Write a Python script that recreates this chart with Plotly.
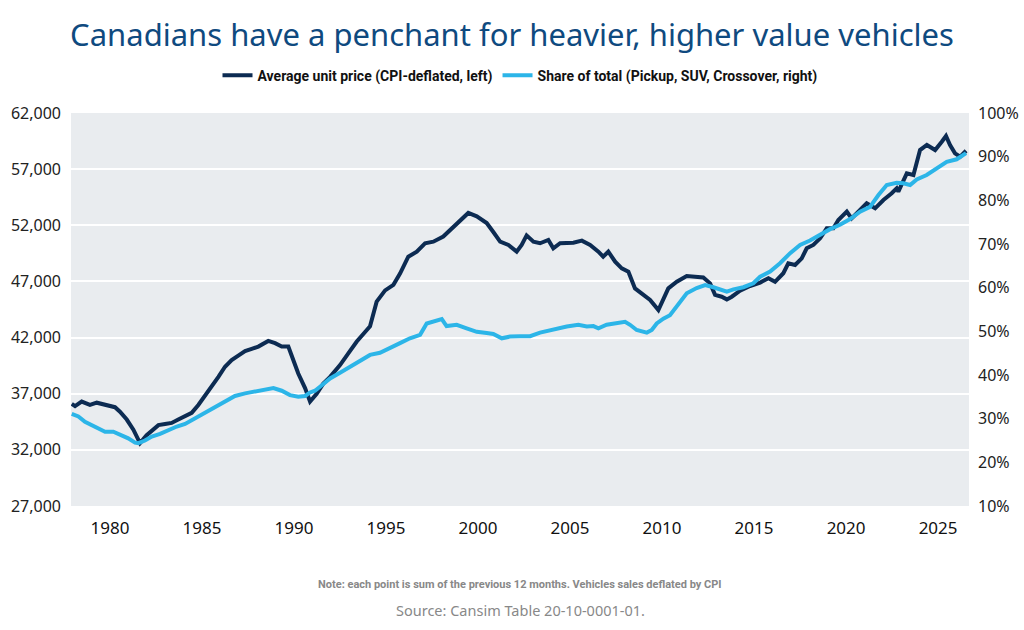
import plotly.graph_objects as go

# average unit price, CPI-deflated (left axis)
price_years = [
    1977.92, 1978.10, 1978.46, 1978.91, 1979.28, 1979.82, 1980.27, 1980.54, 1980.91, 1981.27,
    1981.63, 1981.99, 1982.45, 1982.63, 1982.99, 1983.35, 1983.71, 1984.08, 1984.44, 1984.80,
    1985.16, 1985.53, 1985.89, 1986.25, 1986.61, 1986.97, 1987.34, 1987.70, 1988.06, 1988.60,
    1988.97, 1989.33, 1989.69, 1989.96, 1990.23, 1990.60, 1990.87, 1991.23, 1991.59, 1991.96,
    1992.50, 1992.95, 1993.41, 1993.86, 1994.13, 1994.49, 1994.95, 1995.40, 1995.76, 1996.21,
    1996.67, 1997.12, 1997.57, 1998.11, 1998.66, 1999.11, 1999.47, 1999.93, 2000.47, 2000.83,
    2001.20, 2001.65, 2002.10, 2002.37, 2002.64, 2003.01, 2003.37, 2003.82, 2004.09, 2004.46,
    2005.18, 2005.64, 2006.09, 2006.54, 2006.80, 2007.08, 2007.45, 2007.81, 2008.17, 2008.53,
    2008.98, 2009.35, 2009.80, 2010.07, 2010.34, 2010.80, 2011.34, 2011.79, 2012.24, 2012.61,
    2012.88, 2013.24, 2013.52, 2013.79, 2014.24, 2014.78, 2015.33, 2015.78, 2016.14, 2016.59,
    2016.86, 2017.23, 2017.59, 2017.86, 2018.22, 2018.59, 2018.95, 2019.31, 2019.58, 2020.04,
    2020.30, 2020.76, 2021.12, 2021.58, 2022.03, 2022.48, 2022.75, 2022.84, 2023.30, 2023.66,
    2024.02, 2024.39, 2024.84, 2025.20, 2025.43, 2025.65, 2025.92, 2026.20, 2026.52,
]
price = [
    36100, 35900, 36300, 36000, 36200, 36000, 35800, 35400, 34700, 33800,
    32600, 33300, 34000, 34200, 34300, 34400, 34700, 35000, 35300, 36000,
    36800, 37600, 38500, 39400, 40000, 40400, 40800, 41000, 41200, 41700,
    41500, 41200, 41200, 40000, 38800, 37500, 36300, 37000, 37900, 38500,
    39550, 40600, 41650, 42500, 43000, 45200, 46200, 46700, 47700, 49200,
    49650, 50400, 50540, 51000, 51900, 52600, 53100, 52800, 52200, 51400,
    50540, 50250, 49650, 50250, 51100, 50540, 50400, 50700, 49950, 50400,
    50450, 50630, 50250, 49650, 49200, 49650, 48760, 48170, 47870, 46380,
    45800, 45350, 44450, 45350, 46380, 46970, 47480, 47420, 47360, 46830,
    45800, 45640, 45400, 45640, 46170, 46590, 46900, 47280, 46970, 47730,
    48620, 48470, 49060, 49950, 50250, 50840, 51730, 51730, 52470, 53220,
    52620, 53360, 53960, 53510, 54250, 54850, 55290, 54990, 56630, 56480,
    58700, 59150, 58700, 59440, 59950, 59150, 58410, 58110, 58640,
]

# share of total sales: pickup, SUV, crossover (right axis, %)
share_years = [
    1977.92, 1978.28, 1978.64, 1979.01, 1979.36, 1979.73, 1980.18, 1980.54, 1980.99, 1981.36,
    1981.54, 1981.90, 1982.27, 1982.72, 1983.17, 1983.63, 1984.08, 1984.62, 1985.16, 1985.71,
    1986.25, 1986.79, 1987.34, 1987.88, 1988.42, 1988.88, 1989.33, 1989.78, 1990.23, 1990.60,
    1990.87, 1991.14, 1991.41, 1991.96, 1992.50, 1993.04, 1993.59, 1994.13, 1994.67, 1995.22,
    1995.76, 1996.30, 1996.85, 1997.21, 1997.57, 1998.03, 1998.29, 1998.84, 1999.38, 1999.93,
    2000.47, 2000.83, 2001.29, 2001.74, 2002.28, 2002.83, 2003.37, 2003.91, 2004.28, 2004.82,
    2005.45, 2005.91, 2006.27, 2006.54, 2006.99, 2007.54, 2007.99, 2008.26, 2008.62, 2009.17,
    2009.44, 2009.71, 2010.07, 2010.43, 2010.89, 2011.34, 2011.88, 2012.34, 2012.79, 2013.24,
    2013.52, 2013.88, 2014.42, 2014.96, 2015.33, 2015.87, 2016.41, 2016.96, 2017.50, 2018.04,
    2018.59, 2019.13, 2019.67, 2020.22, 2020.76, 2021.30, 2021.76, 2022.21, 2022.75, 2023.11,
    2023.48, 2023.84, 2024.38, 2024.92, 2025.47, 2026.01, 2026.52,
]
share = [
    31.1, 30.5, 29.3, 28.6, 27.8, 27.0, 27.0, 26.3, 25.5, 24.5,
    24.4, 25.0, 25.9, 26.5, 27.4, 28.2, 28.8, 30.1, 31.2, 32.7,
    33.9, 35.2, 35.8, 36.2, 36.6, 37.0, 36.4, 35.4, 35.0, 35.2,
    36.0, 36.4, 37.3, 39.2, 40.5, 41.9, 43.4, 44.6, 45.1, 46.1,
    47.3, 48.4, 49.2, 51.8, 52.2, 52.8, 51.2, 51.5, 50.7, 49.9,
    49.6, 49.4, 48.4, 48.8, 48.9, 48.9, 49.7, 50.3, 50.7, 51.1,
    51.5, 51.1, 51.2, 50.7, 51.5, 52.0, 52.2, 51.5, 50.3, 49.7,
    50.3, 51.8, 52.9, 53.7, 56.4, 58.7, 59.9, 60.6, 60.1, 59.6,
    59.1, 59.6, 60.1, 61.0, 62.5, 63.7, 65.6, 67.9, 69.8, 70.8,
    72.1, 73.4, 74.4, 75.7, 77.4, 78.5, 81.2, 83.5, 84.0, 83.9,
    83.5, 84.8, 85.8, 87.3, 88.8, 89.4, 90.8,
]

year_ticks = list(range(1980, 2030, 5))

NAVY = "#0c2b52"
SKY = "#2cb5e8"
FONT = "Noto Sans, Roboto, sans-serif"
NARROW = "Roboto, sans-serif"

fig = go.Figure()
fig.add_trace(go.Scatter(x=price_years, y=price, mode="lines", name="Average unit price (CPI-deflated, left)",
                         line=dict(color=NAVY, width=4)))
fig.add_trace(go.Scatter(x=share_years, y=share, mode="lines", yaxis="y2",
                         name="Share of total (Pickup, SUV, Crossover, right)",
                         line=dict(color=SKY, width=4)))

fig.update_layout(
    width=1024, height=630,
    margin=dict(l=71, r=55, t=113, b=124),
    paper_bgcolor="white",
    plot_bgcolor="#e9ecef",
    font=dict(family=FONT, color="#222222", size=15),
    title=dict(text="Canadians have a penchant for heavier, higher value vehicles",
               x=0.5, xanchor="center", y=0.945, yanchor="middle",
               font=dict(size=31, color="#0f4a7f", family=FONT)),
    showlegend=True,
    legend=dict(orientation="h", x=0.5, xanchor="center", y=1.095, yanchor="middle",
                font=dict(size=14, family=NARROW, color="#111111", weight="bold"), itemwidth=30,
                bgcolor="rgba(0,0,0,0)"),
    xaxis=dict(range=[1977.88, 2026.68], tickvals=year_ticks, showgrid=False, zeroline=False,
               ticks="", tickfont=dict(size=17, color="#111111"), ticklabelstandoff=10,
               automargin=False),
    yaxis=dict(range=[27000, 62000], tick0=27000, dtick=5000, tickformat=",", gridcolor="white",
               gridwidth=1.5, zeroline=False, ticks="", tickfont=dict(size=16), ticklabelstandoff=9,
               automargin=False),
    yaxis2=dict(range=[10, 100], dtick=10, ticksuffix="%", overlaying="y", side="right",
                showgrid=False, zeroline=False, ticks="", tickfont=dict(size=16), ticklabelstandoff=8,
                automargin=False),
)

fig.add_annotation(text="<b>Note: each point is sum of the previous 12 months. Vehicles sales deflated by CPI</b>",
                   xref="paper", yref="paper", x=0.5, y=-0.201, yanchor="middle", showarrow=False,
                   font=dict(size=11, color="#888888", family=NARROW))
fig.add_annotation(text="Source: Cansim Table 20-10-0001-01.",
                   xref="paper", yref="paper", x=0.5, y=-0.265, yanchor="middle", showarrow=False,
                   font=dict(size=14.5, color="#888888", family=FONT))

# page body has a default 8px margin; drop it so the chart sits at the corner
fig.write_html("out.html", config={"displayModeBar": False},
               post_script="document.body.style.margin='0';")
